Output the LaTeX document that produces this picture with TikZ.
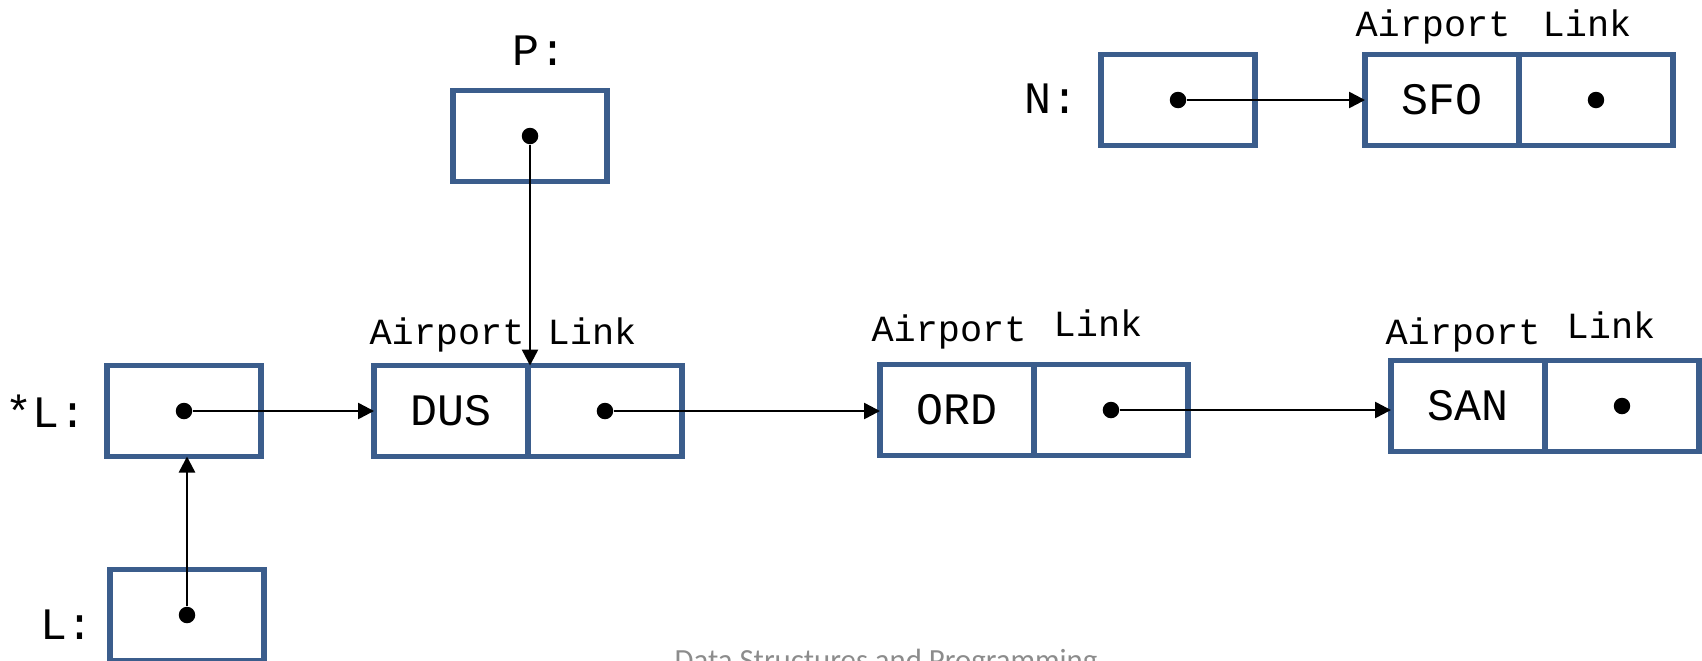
\documentclass[tikz,border=0pt]{standalone}
\usepackage{fontspec}
\setmonofont{Liberation Mono}
\newfontfamily\footfont{Carlito}
\usetikzlibrary{positioning}
\usetikzlibrary{arrows.meta}
\definecolor{boxblue}{RGB}{59,93,140}
\tikzset{node distance=0pt,
cell/.style={ % One box of a record or pointer
draw=boxblue,
line width=3pt,
minimum width=3.08cm,
minimum height=1.82cm,
inner sep=0pt,
outer sep=0pt,
font=\ttfamily\fontsize{25.6}{30}\selectfont},
varlabel/.style={anchor=base, font=\ttfamily\fontsize{25.6}{30}\selectfont},
fieldlabel/.style={anchor=base, font=\ttfamily\fontsize{21}{25}\selectfont},
ptrdot/.style={circle, fill=black, inner sep=0pt, minimum size=0.33cm},
ptr/.style={ % Sets the properties for each pointer
draw,
-{Triangle[length=0.32cm,width=0.32cm]},
line width=1.4pt}}

\begin{document}
\begin{tikzpicture}[x=0.02cm, y=-0.02cm]
\clip (0,0) rectangle (1702,660);
% pointer variables
\node[cell] (p) at (530,136) {};
\node[cell] (n) at (1178,100) {};
\node[cell] (sl) at (184,411) {};
\node[cell] (l) at (187,615) {};
\node[varlabel] (plabel) at (539,65) {P:};
\node[varlabel] (nlabel) at (1051,113) {N:};
\node[varlabel] (sllabel) at (46,427) {*L:};
\node[varlabel] (llabel) at (67,639) {L:};
% records
\node[cell] (sfo) at (1442,100) {SFO};
\node[cell, right=of sfo] (sfol) {};
\node[cell] (dus) at (451,411) {DUS};
\node[cell, right=of dus] (dusl) {};
\node[cell] (ord) at (957,410) {ORD};
\node[cell, right=of ord] (ordl) {};
\node[cell] (san) at (1468,406) {SAN};
\node[cell, right=of san] (sanl) {};
% field names
\node[fieldlabel] (sfoa) at (1433,36) {Airport};
\node[fieldlabel] (sfob) at (1587,36) {Link};
\node[fieldlabel] (dusa) at (447,344) {Airport};
\node[fieldlabel] (dusb) at (592,344) {Link};
\node[fieldlabel] (orda) at (949,341) {Airport};
\node[fieldlabel] (ordb) at (1098,336) {Link};
\node[fieldlabel] (sana) at (1463,344) {Airport};
\node[fieldlabel] (sanb) at (1611,338) {Link};
% dots
\node[ptrdot] (pdot) at (p.center) {};
\node[ptrdot] (ndot) at (n.center) {};
\node[ptrdot] (sldot) at (sl.center) {};
\node[ptrdot] (ldot) at (l.center) {};
\node[ptrdot] (sfodot) at (sfol.center) {};
\node[ptrdot] (dusdot) at (dusl.center) {};
\node[ptrdot] (orddot) at (ordl.center) {};
\node[ptrdot] (sandot) at (sanl.center) {};
% links
\draw (pdot) edge[ptr] (pdot |- dusl.north);
\draw (ndot) edge[ptr] (ndot -| sfo.west);
\draw (sldot) edge[ptr] (sldot -| dus.west);
\draw (ldot) edge[ptr] (ldot |- sl.south);
\draw (dusdot) edge[ptr] (dusdot -| ord.west);
\draw (orddot) edge[ptr] (orddot -| san.west);
\node[anchor=base, text=gray!90, font=\footfont\fontsize{17.5}{20}\selectfont] (footer) at (886,670) {Data Structures and Programming};
\end{tikzpicture}
\end{document}
